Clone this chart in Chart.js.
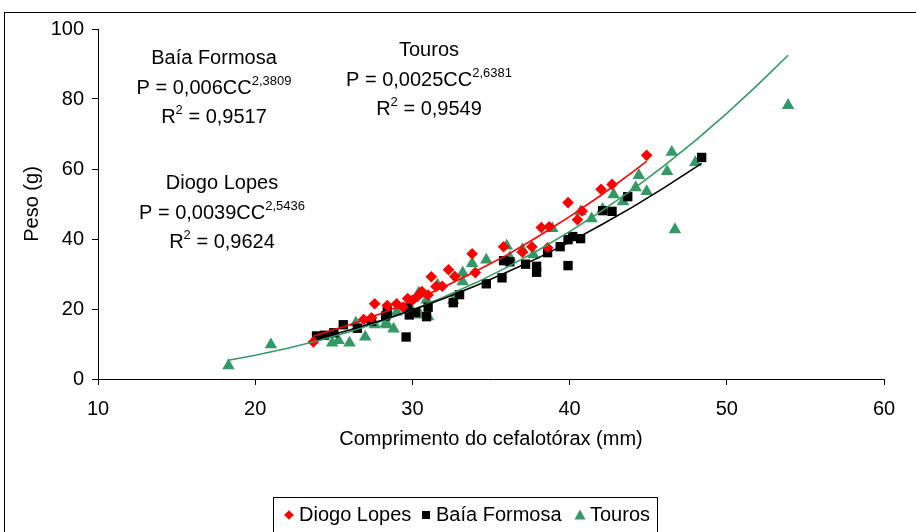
<!DOCTYPE html>
<html><head><meta charset="utf-8">
<script src="https://cdn.jsdelivr.net/npm/chart.js@4/dist/chart.umd.min.js"></script>
<style>html,body{margin:0;padding:0;background:#fff;}#wrap{width:916px;height:532px;position:relative;background:#fff;}</style>
</head><body><div id="wrap"><canvas id="c" width="916" height="532"></canvas></div>
<script>
const FONT = '"Liberation Sans", Arial, Helvetica, sans-serif';

const seriesNames = ['Diogo Lopes', 'Baía Formosa', 'Touros'];
const xAxisTitle = 'Comprimento do cefalotórax (mm)';
const yAxisTitle = 'Peso (g)';
const xTickValues = [10, 20, 30, 40, 50, 60];
const yTickValues = [0, 20, 40, 60, 80, 100];

// Diogo Lopes (observed)
const diogoX = [23.7, 26.9, 27.4, 27.6, 28.4, 29.0, 29.4, 29.7, 30.0, 30.3, 30.6, 31.0, 31.2, 31.5, 31.9, 32.3, 32.7, 33.8, 34.0, 35.8, 37.0, 37.6, 38.2, 38.6, 38.7, 39.9, 40.5, 40.8, 42.0, 42.7, 44.9];
const diogoY = [10.6, 17.0, 17.5, 21.5, 21.0, 21.5, 20.5, 23.0, 22.5, 23.5, 25.0, 24.0, 29.2, 26.4, 26.5, 31.2, 29.3, 35.8, 30.4, 37.8, 36.2, 37.8, 43.3, 37.5, 43.5, 50.4, 45.5, 48.0, 54.2, 55.6, 63.9];

// Baía Formosa (observed)
const baiaX = [23.9, 24.4, 25.0, 25.6, 26.5, 27.4, 28.3, 28.4, 29.6, 29.7, 29.8, 30.2, 30.9, 31.0, 32.6, 33.0, 34.7, 35.7, 35.8, 36.2, 37.2, 37.9, 37.9, 38.6, 39.4, 39.9, 39.9, 40.2, 40.7, 42.1, 42.7, 43.7, 48.4];
const baiaY = [12.3, 12.5, 13.2, 15.5, 14.5, 16.5, 18.0, 19.2, 12.0, 20.5, 18.3, 19.0, 17.8, 20.5, 21.8, 24.1, 27.2, 28.9, 33.8, 33.5, 32.8, 30.5, 32.2, 36.1, 37.8, 39.8, 32.4, 40.7, 40.1, 48.1, 47.9, 52.1, 63.3];

// Touros (observed)
const tourosX = [18.3, 21.0, 24.9, 25.3, 26.0, 26.4, 27.0, 27.4, 27.6, 28.3, 28.4, 28.8, 29.0, 29.7, 30.0, 30.5, 30.4, 30.9, 31.0, 31.6, 32.6, 33.2, 33.2, 33.8, 34.7, 36.0, 36.2, 37.0, 37.7, 38.9, 40.7, 41.4, 42.1, 42.8, 43.4, 44.2, 44.4, 44.9, 46.2, 46.5, 46.7, 48.0, 53.9];
const tourosY = [3.8, 9.8, 10.3, 11.0, 10.3, 16.0, 12.0, 16.9, 15.5, 15.8, 15.5, 14.3, 19.2, 20.3, 19.2, 18.3, 24.6, 22.6, 17.8, 26.9, 22.5, 30.4, 27.8, 33.0, 34.0, 38.0, 34.7, 37.0, 35.5, 43.0, 47.8, 45.8, 48.5, 52.7, 50.7, 54.7, 58.2, 53.6, 59.3, 64.8, 42.7, 61.9, 78.2];

// Fitted power curves
const diogoFitX = [23.7, 26, 28, 30, 32, 34, 36, 38, 40, 42, 44, 44.9];
const diogoFitY = [12.2, 15.5, 18.7, 22.3, 26.3, 30.7, 35.4, 40.7, 46.4, 52.5, 59.1, 62.2];
const baiaFitX = [23.9, 26, 28, 30, 32, 34, 36, 38, 40, 42, 44, 46, 48.4];
const baiaFitY = [11.5, 14.0, 16.7, 19.7, 23.0, 26.6, 30.5, 34.6, 39.1, 44.0, 49.1, 54.6, 61.6];
const tourosFitX = [18.3, 20, 22, 24, 26, 28, 30, 32, 34, 36, 38, 40, 42, 44, 46, 48, 50, 52, 53.9];
const tourosFitY = [5.35, 6.76, 8.7, 10.95, 13.5, 16.4, 19.7, 23.4, 27.4, 31.9, 36.8, 42.1, 47.9, 54.1, 60.9, 68.1, 75.9, 84.2, 92.5];

// Equation annotations: [site, coefficient part, exponent, R² value]
const eqSites = ['Baía Formosa', 'Touros', 'Diogo Lopes'];
const eqCoef = ['P = 0,006CC', 'P = 0,0025CC', 'P = 0,0039CC'];
const eqExp = ['2,3809', '2,6381', '2,5436'];
const eqR2 = [' = 0,9517', ' = 0,9549', ' = 0,9624'];

const RED = '#FF0000', BLACK = '#000000', GREEN = '#339966';
const pts = (xs, ys) => xs.map((x, i) => ({x, y: ys[i]}));

const datasets = [
  {label: 'fitD', data: pts(diogoFitX, diogoFitY), showLine: true, borderColor: RED, borderWidth: 1.6, pointRadius: 0, order: 0, isFit: true},
  {label: 'fitB', data: pts(baiaFitX, baiaFitY), showLine: true, borderColor: BLACK, borderWidth: 1.6, pointRadius: 0, order: 0, isFit: true},
  {label: 'fitT', data: pts(tourosFitX, tourosFitY), showLine: true, borderColor: GREEN, borderWidth: 1.6, pointRadius: 0, order: 0, isFit: true},
  {label: seriesNames[0], data: pts(diogoX, diogoY), pointStyle: 'rectRot', pointRadius: 5.8, backgroundColor: RED, borderColor: RED, borderWidth: 0, order: 1},
  {label: seriesNames[1], data: pts(baiaX, baiaY), pointStyle: 'rect', pointRadius: 6.6, backgroundColor: BLACK, borderColor: BLACK, borderWidth: 0, order: 2},
  {label: seriesNames[2], data: pts(tourosX, tourosY), pointStyle: 'triangle', pointRadius: 7.2, backgroundColor: GREEN, borderColor: GREEN, borderWidth: 0, order: 3}
];

function drawSegments(ctx, cx, baseline, segs) {
  let w = 0;
  segs.forEach(s => { ctx.font = (s.sup ? '13px ' : '20px ') + FONT; s.w = ctx.measureText(s.t).width; w += s.w; });
  let x = cx - w / 2;
  segs.forEach(s => {
    ctx.font = (s.sup ? '13px ' : '20px ') + FONT;
    ctx.fillText(s.t, x, s.sup ? baseline - 9 : baseline);
    x += s.w;
  });
}

const decor = {
  id: 'decor',
  afterDraw(chart) {
    const ctx = chart.ctx;
    ctx.save();
    ctx.strokeStyle = '#000';
    ctx.lineWidth = 1;
    ctx.strokeRect(4.5, 12.5, 1000, 1000);
    ctx.fillStyle = '#000';
    ctx.textAlign = 'left';
    ctx.textBaseline = 'alphabetic';
    const blocks = [{cx: 214, y: 64}, {cx: 429, y: 56}, {cx: 222, y: 189}];
    blocks.forEach((b, i) => {
      drawSegments(ctx, b.cx, b.y, [{t: eqSites[i]}]);
      drawSegments(ctx, b.cx, b.y + 30, [{t: eqCoef[i]}, {t: eqExp[i], sup: true}]);
      drawSegments(ctx, b.cx, b.y + 59, [{t: 'R'}, {t: '2', sup: true}, {t: eqR2[i]}]);
    });
    ctx.strokeRect(273.5, 497.5, 384, 100);
    const items = chart.data.datasets.filter(d => !d.isFit);
    const mx = [289, 426, 580];
    ctx.font = '20px ' + FONT;
    ctx.textBaseline = 'middle';
    items.forEach((d, i) => {
      const x = mx[i], y = 515;
      ctx.fillStyle = d.backgroundColor;
      ctx.beginPath();
      if (d.pointStyle === 'rectRot') {
        ctx.moveTo(x, y - 4.8); ctx.lineTo(x + 4.8, y); ctx.lineTo(x, y + 4.8); ctx.lineTo(x - 4.8, y);
      } else if (d.pointStyle === 'rect') {
        ctx.rect(x - 4, y - 4, 8, 8);
      } else {
        ctx.moveTo(x, y - 5.5); ctx.lineTo(x + 5.5, y + 4.5); ctx.lineTo(x - 5.5, y + 4.5);
      }
      ctx.closePath();
      ctx.fill();
      ctx.fillStyle = '#000';
      ctx.fillText(d.label, x + 10, y);
    });
    ctx.restore();
  }
};

new Chart(document.getElementById('c'), {
  type: 'scatter',
  data: {datasets},
  plugins: [decor],
  options: {
    responsive: false,
    animation: false,
    events: [],
    layout: {padding: {left: 0, right: 32, top: 29, bottom: 73}},
    plugins: {legend: {display: false}, tooltip: {enabled: false}},
    scales: {
      x: {
        type: 'linear', min: 10, max: 60,
        afterBuildTicks: s => { s.ticks = xTickValues.map(v => ({value: v})); },
        afterFit: s => { s.height = 80; },
        ticks: {color: '#000', font: {family: FONT, size: 20}, padding: 12, maxRotation: 0},
        grid: {drawOnChartArea: false, drawTicks: true, tickLength: 6, color: '#000'},
        border: {display: true, color: '#000', width: 1},
        title: {display: true, text: xAxisTitle, color: '#000', font: {family: FONT, size: 20}, padding: {top: 0, bottom: 8}}
      },
      y: {
        type: 'linear', min: 0, max: 100,
        afterBuildTicks: s => { s.ticks = yTickValues.map(v => ({value: v})); },
        afterFit: s => { s.width = 98; },
        ticks: {color: '#000', font: {family: FONT, size: 20}, padding: 8},
        grid: {drawOnChartArea: false, drawTicks: true, tickLength: 6, color: '#000'},
        border: {display: true, color: '#000', width: 1},
        title: {display: true, text: yAxisTitle, color: '#000', font: {family: FONT, size: 20}, padding: {top: 20, bottom: 0}}
      }
    }
  }
});
</script></body></html>
